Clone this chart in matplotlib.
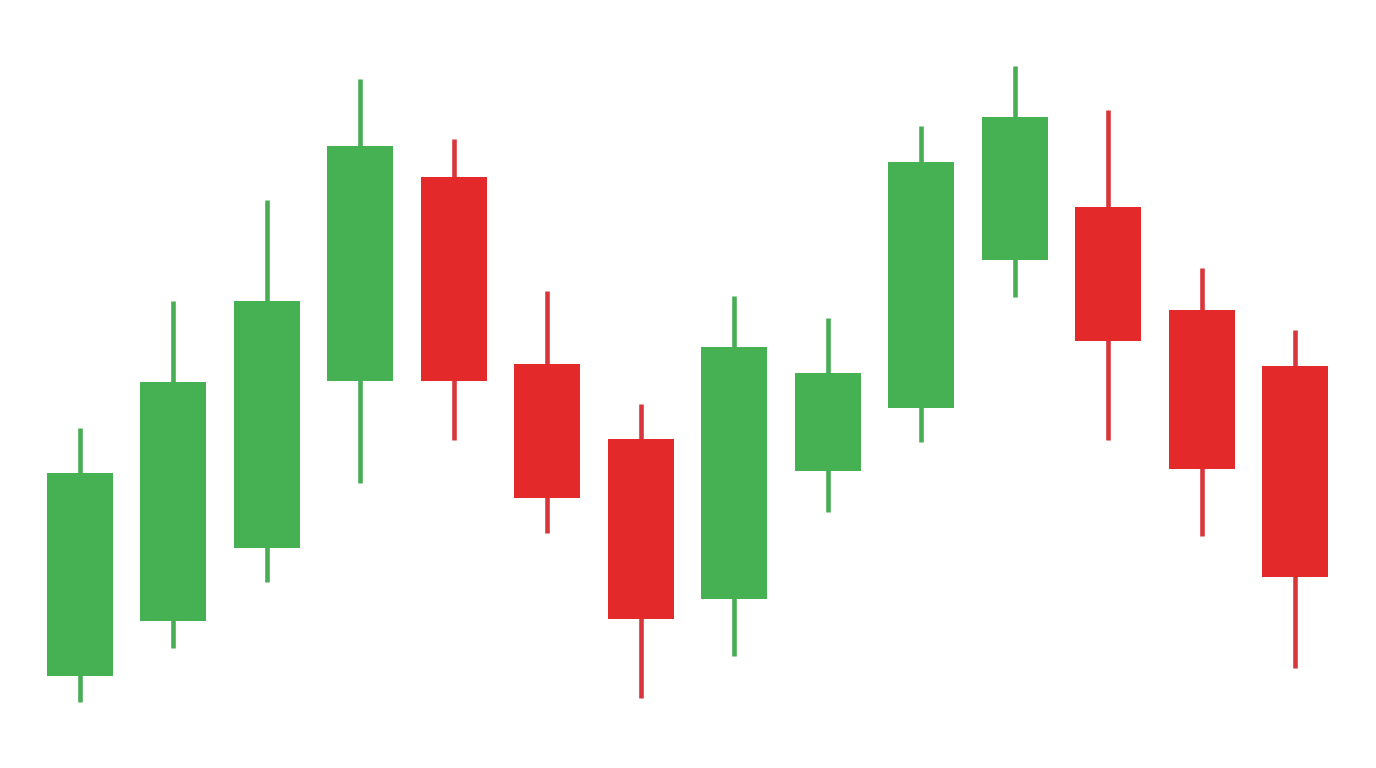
import matplotlib
matplotlib.use("Agg")
import matplotlib.pyplot as plt
import numpy as np

# candle data (arbitrary price units)
opens = [9.2, 14.7, 22.0, 38.7, 59.1, 40.4, 32.9, 16.9, 29.7, 36.0, 50.8, 56.1, 45.8, 40.2]
closes = [29.5, 38.6, 46.7, 62.2, 38.7, 27.0, 14.9, 42.1, 39.5, 60.6, 65.1, 42.7, 29.9, 19.1]
highs = [34.0, 46.7, 56.8, 68.9, 62.9, 47.7, 36.4, 47.2, 45.0, 64.2, 70.2, 65.8, 50.0, 43.8]
lows = [6.6, 12.0, 18.6, 28.5, 32.8, 23.5, 7.0, 11.2, 25.6, 32.6, 47.1, 32.8, 23.2, 10.0]

up_color = '#45b153'
down_color = '#e4292b'
up_wick = '#48ad55'
down_wick = '#d8363a'

fig = plt.figure(figsize=(13.76, 7.68), dpi=100)
ax = fig.add_axes([0, 0, 1, 1])

x = np.arange(len(opens))
body_w = 0.706

for i in x:
    o, c, h, l = opens[i], closes[i], highs[i], lows[i]
    up = c >= o
    col = up_color if up else down_color
    wcol = up_wick if up else down_wick
    ax.vlines(i, l, h, color=wcol, linewidth=3.3, zorder=1)
    ax.bar(i, abs(c - o), bottom=min(o, c), width=body_w,
           color=col, edgecolor='none', zorder=2)

ax.set_xlim(-0.856, 13.867)
ax.set_ylim(0, 76.8)
ax.axis('off')

fig.savefig('out.png', dpi=100, facecolor='white')
